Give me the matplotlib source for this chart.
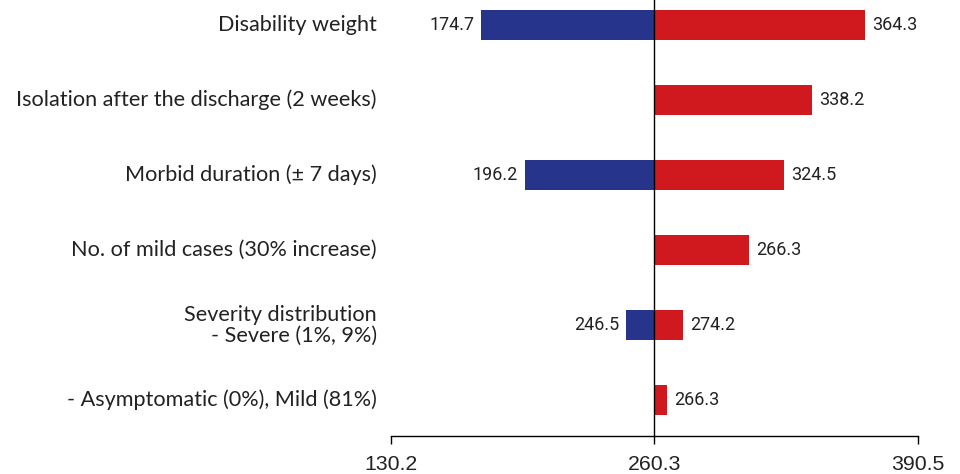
import matplotlib
matplotlib.use("Agg")
import matplotlib.pyplot as plt

# Tornado chart data (base case 260.3)
categories = [
    "Disability weight",
    "Isolation after the discharge (2 weeks)",
    "Morbid duration (\u00b1 7 days)",
    "No. of mild cases (30% increase)",
    "Severity distribution\n- Severe (1%, 9%)",
    "- Asymptomatic (0%), Mild (81%)",
]
base = 260.3
low_values = [174.7, None, 196.2, None, 246.5, None]
high_values = [364.3, 338.2, 324.5, 307.2, 274.2, 266.3]
low_labels = ["174.7", None, "196.2", None, "246.5", None]
high_labels = ["364.3", "338.2", "324.5", "266.3", "274.2", "266.3"]
ticks = [130.2, 260.3, 390.5]

BLUE = "#27348b"
RED = "#d0191e"

fig = plt.figure(figsize=(9.6, 4.74), dpi=100)
ax = fig.add_axes([391 / 960, 38 / 474, 527 / 960, 436 / 474])

bar_h = 0.41
for i, cat in enumerate(categories):
    hi = high_values[i]
    if hi is not None:
        ax.barh(i, hi - base, left=base, height=bar_h, color=RED)
        ax.text(hi + 3.5, i, high_labels[i], va="center", ha="left",
                fontsize=13, color="#222222", family="Roboto")
    lo = low_values[i]
    if lo is not None:
        ax.barh(i, lo - base, left=base, height=bar_h, color=BLUE)
        ax.text(lo - 3.5, i, low_labels[i], va="center", ha="right",
                fontsize=13, color="#222222", family="Roboto")
    ax.text(130.2 - 7, i, cat, va="center", ha="right", fontsize=15.6,
            color="#222222", family="Lato", linespacing=1.05)

ax.axvline(base, color="black", linewidth=1.0, zorder=3)

ax.set_xlim(130.2, 390.5)
ax.set_ylim((436 - 25) / 75, -25 / 75)
ax.set_yticks([])
ax.set_xticks(ticks)
ax.set_xticklabels([f"{t:.1f}" for t in ticks], fontsize=15.3,
                   family="Liberation Sans", color="#222222")
ax.tick_params(axis="x", direction="out", length=6, width=1, pad=8)
for s in ["top", "right", "left"]:
    ax.spines[s].set_visible(False)
ax.spines["bottom"].set_linewidth(1.0)

fig.savefig("out.png", dpi=100)
